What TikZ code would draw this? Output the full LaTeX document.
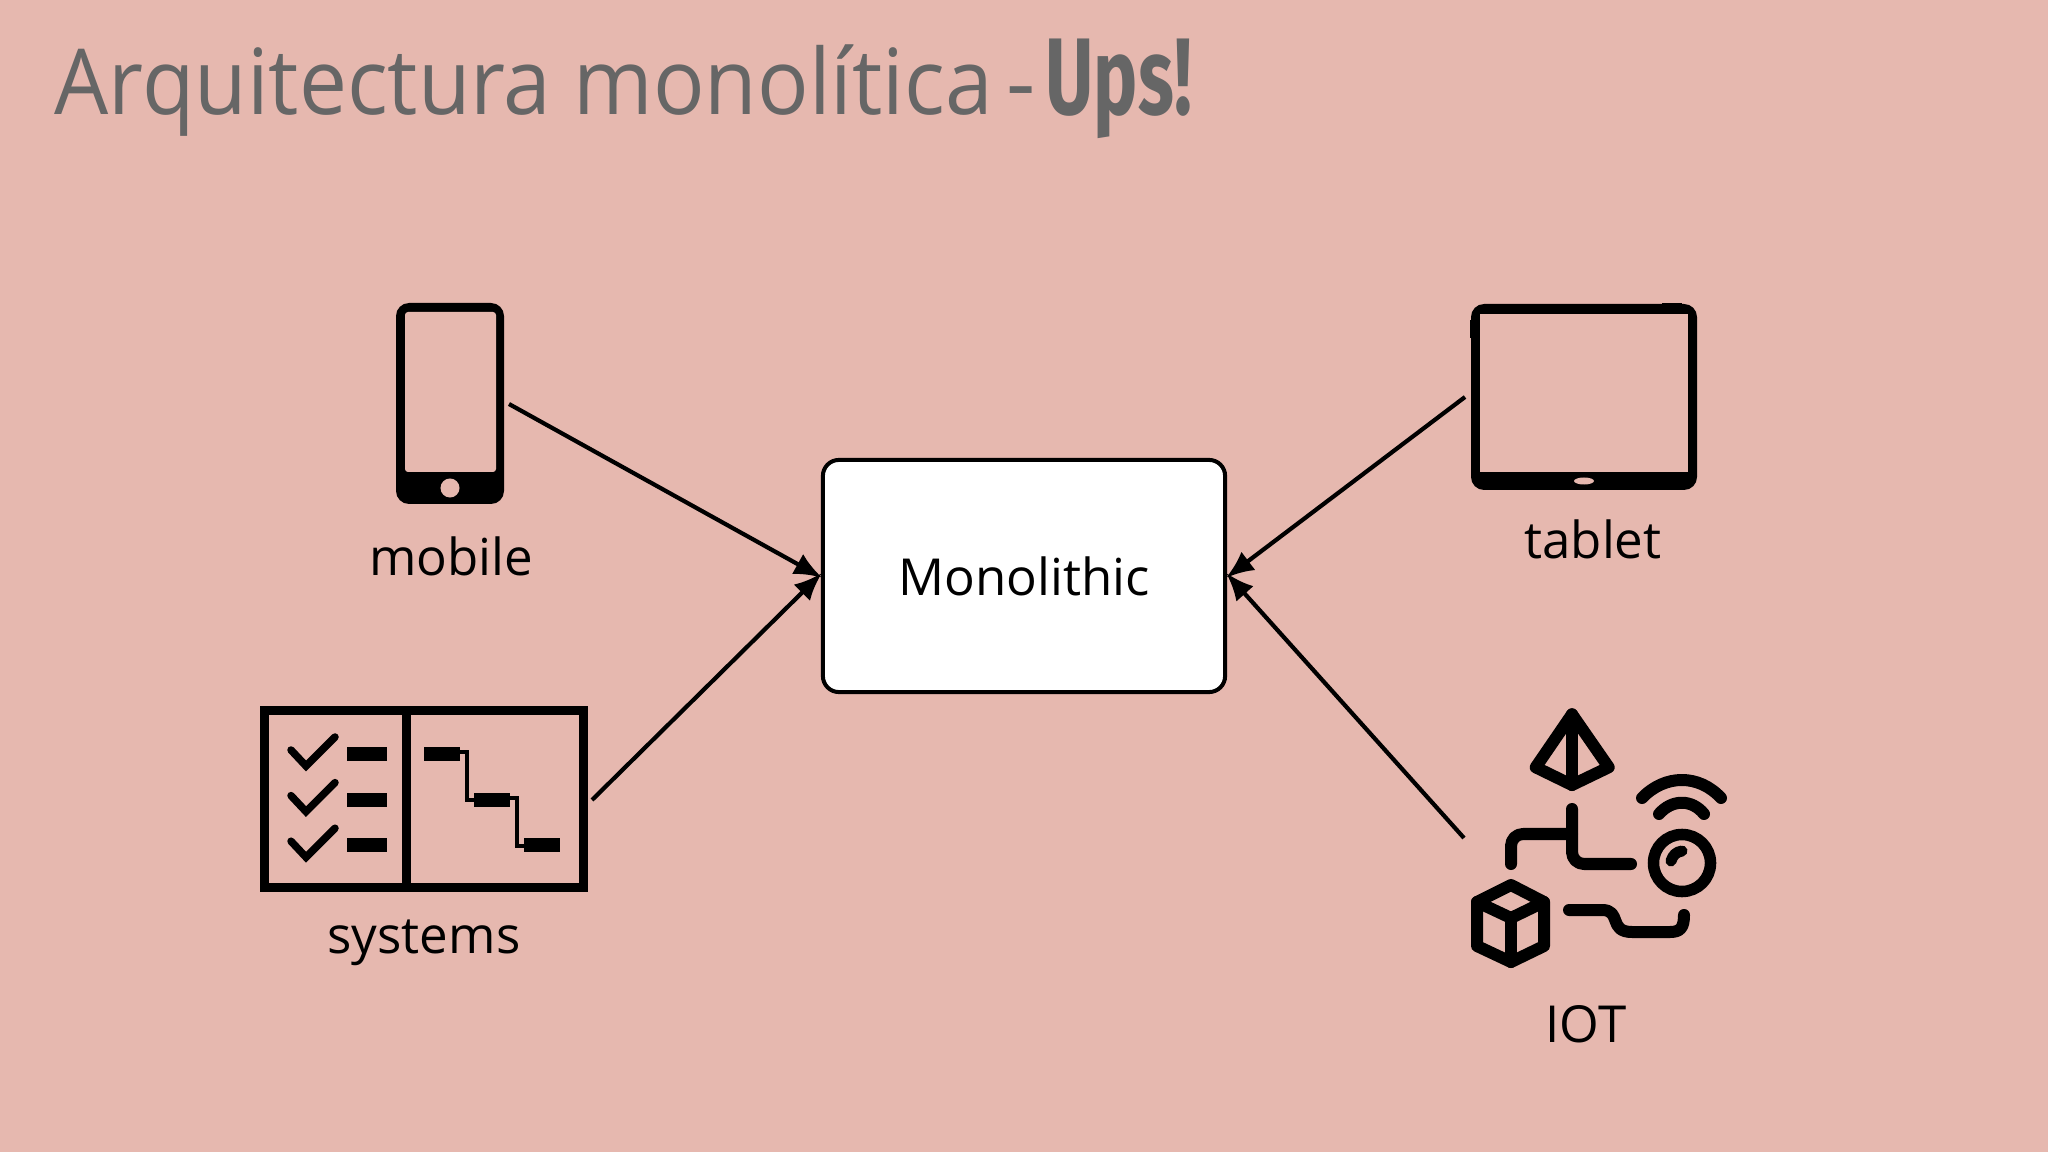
\documentclass[tikz,border=0pt]{standalone}
\usepackage{fontspec}
\setmainfont{Open Sans}
\newfontfamily\titlefont[FakeStretch=0.94]{Open Sans}
\newfontfamily\upsfont[FakeStretch=0.68]{Fira Sans}
\usepackage{tikz}
\usetikzlibrary{arrows.meta}
\usetikzlibrary{positioning}
\definecolor{bgpink}{HTML}{E6B8AF}
\definecolor{titlegray}{HTML}{666666}
\tikzset{
  label text/.style={inner sep=0pt,anchor=base,text=black,font=\fontsize{14.5}{18}\selectfont},
  title text/.style={inner sep=0pt,anchor=base west,text=titlegray},
  link/.style={line width=0.042cm,-{Latex[length=0.28cm,width=0.23cm]},shorten >=-0.015cm},
  icon/.style={line width=0.12cm,line cap=round,line join=round},
  pipe/.style={icon,rounded corners=0.12cm}
}

\begin{document}
\begin{tikzpicture}[x=0.01cm,y=-0.01cm]
      \fill[bgpink] (0,0) rectangle (2048,1152);
      \useasboundingbox (0,0) rectangle (2048,1152);

      % title
      \node[title text,font=\titlefont\fontsize{25.9}{30}\selectfont] (title) at (54,115) {Arquitectura monolítica};
      \node[title text,font=\fontsize{25.9}{30}\selectfont] (titledash) at (1006,115) {-};
      \node[title text,font=\upsfont\bfseries\fontsize{31}{36}\selectfont] (titleups) at (1045,115) {Ups!};

      % box
      \node[draw,fill=white,line width=0.04cm,rounded corners=0.16cm,minimum width=4.02cm,minimum height=2.32cm,
            font=\fontsize{14.5}{18}\selectfont] (monolith) at (1024,576) {Monolithic};

      % mobile
      \fill[black,rounded corners=0.13cm] (396,303) rectangle (504,504);
      \fill[bgpink,rounded corners=0.03cm] (405,312) rectangle (496,472);
      \fill[bgpink] (450,488) circle (0.095cm);
      \node[label text] (mobile) at (451,576) {mobile};
      \coordinate (mobile out) at (509,404);

      % tablet
      \fill[black,rounded corners=0.13cm] (1471,304) rectangle (1697,490);
      \fill[black] (1662,303) rectangle (1682,310);
      \fill[black] (1470,320) rectangle (1474,338);
      \fill[bgpink] (1480,314) rectangle (1688,472);
      \fill[bgpink] (1584,481) ellipse (0.1cm and 0.035cm);
      \node[label text] (tablet) at (1593,559) {tablet};
      \coordinate (tablet out) at (1465,397);

      % systems
      \draw[line width=0.09cm] (264.5,710.5) rectangle (583.5,887.5);
      \draw[line width=0.09cm] (406,706) -- (406,892);
      \foreach \yy in {0,45.6,91.2} {
        \draw[line width=0.075cm,line cap=round] (291,750+\yy) -- (306,766+\yy) -- (335,737+\yy);
        \fill[black] (347,747+\yy) rectangle (387,761+\yy);
      }
      \fill[black] (424,747) rectangle (460,761);
      \fill[black] (474,793) rectangle (510,807);
      \fill[black] (524,838) rectangle (560,852);
      \draw[line width=0.035cm] (460,752) -- (467,752) -- (467,800) -- (474,800);
      \draw[line width=0.035cm] (510,798) -- (517,798) -- (517,846) -- (524,846);
      \node[label text] (systems) at (424,953) {systems};
      \coordinate (systems out) at (592,800);

      % iot
      \draw[icon] (1572,714.3) -- (1608.7,767.3) -- (1572,785) -- (1535.7,767.3) -- cycle;
      \draw[icon] (1572,714.3) -- (1572,785);
      \draw[pipe] (1572,809) -- (1572,864) -- (1631,864);
      \draw[pipe] (1572,834) -- (1511,834) -- (1511,864);
      \draw[icon] (1511,885) -- (1544,902) -- (1544,946) -- (1511,962) -- (1477,946) -- (1477,902) -- cycle;
      \draw[icon] (1477,902) -- (1511,918) -- (1544,902);
      \draw[icon] (1511,918) -- (1511,962);
      \draw[line width=0.115cm] (1682,863) circle (0.285cm);
      \draw[icon,line width=0.11cm] (1671,861) .. controls (1673,855) and (1676,852) .. (1682,851);
      \draw[icon] (1642,798) .. controls (1665,774) and (1699,774) .. (1721,798);
      \draw[icon] (1659,814) .. controls (1672,799) and (1692,799) .. (1704,814);
      \draw[icon] (1569,910) -- (1602,910) .. controls (1622,910) and (1608,932) .. (1632,932)
                  -- (1670,932) .. controls (1680,932) and (1684,928) .. (1684,915);
      \node[label text] (iot) at (1586,1042) {IOT};
      \coordinate (iot out) at (1464,838);

      % arrows
      \draw[link] (mobile out) -- ([yshift=-0.01cm]monolith.west);
      \draw[link] (systems out) -- ([yshift=0.02cm]monolith.west);
      \draw[link] (tablet out) -- ([yshift=-0.01cm]monolith.east);
      \draw[link] (iot out) -- ([yshift=0.02cm]monolith.east);
\end{tikzpicture}
\end{document}
